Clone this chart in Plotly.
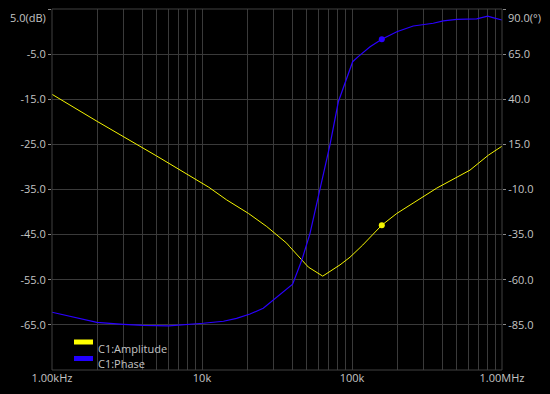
import plotly.graph_objects as go

# ---- data ----
amp_freq = [1000, 2000, 5000, 9300, 11100, 14600, 16600, 20400, 27000, 36700, 38500, 49900, 51200,
            63800, 83200, 97000, 118000, 158000, 199000, 367000, 612000, 811000, 1000000]
amp_db = [-13.9, -19.9, -27.6, -33.0, -34.5, -37.3, -38.4, -40.3, -43.2, -46.9, -47.7, -51.7, -52.2,
          -54.2, -51.7, -50.0, -47.3, -42.9, -40.3, -34.7, -30.7, -27.4, -25.4]

ph_freq = [1000, 1390, 1990, 2990, 4060, 6000, 8300, 10200, 13900, 17000, 20900, 25600, 40200,
           46300, 52500, 59000, 71300, 81100, 89800, 101000, 110000, 132000, 158000, 199000,
           256000, 348000, 406000, 499000, 678000, 803000, 869000, 970000, 1000000]
ph_deg = [-78.0, -80.5, -83.6, -84.7, -85.3, -85.5, -84.7, -84.1, -83.0, -81.4, -79.0, -75.8, -62.5,
          -49.1, -34.3, -15.8, 14.7, 38.6, 48.8, 60.8, 63.6, 69.1, 73.2, 77.4,
          80.6, 82.1, 83.4, 84.3, 84.5, 86.0, 85.2, 84.3, 83.9]

marker_freq = 158000
amp_marker = -42.9
ph_marker = 73.2

x_tickvals = [1e3, 1e4, 1e5, 1e6]
x_ticktext = ["1.00kHz", "10k", "100k", "1.00MHz"]
y1_tickvals = [5, -5, -15, -25, -35, -45, -55, -65]
y1_ticktext = ["", "-5.0", "-15.0", "-25.0", "-35.0", "-45.0", "-55.0", "-65.0"]
y2_tickvals = [90, 65, 40, 15, -10, -35, -60, -85]
y2_ticktext = ["", "65.0", "40.0", "15.0", "-10.0", "-35.0", "-60.0", "-85.0"]
minor_vals = [m * 10 ** d for d in (3, 4, 5) for m in range(2, 10)]

AMP_COLOR = "#f4f400"
PH_COLOR = "#2a00ff"
GRID = "#3a3a3a"
TXT = "#c4c4c4"
FONT = "Open Sans"

fig = go.Figure()
fig.add_trace(go.Scatter(x=amp_freq, y=amp_db, mode="lines",
                         line=dict(color=AMP_COLOR, width=1), yaxis="y", hoverinfo="skip"))
fig.add_trace(go.Scatter(x=ph_freq, y=ph_deg, mode="lines",
                         line=dict(color=PH_COLOR, width=1.2), yaxis="y2", hoverinfo="skip"))
fig.add_trace(go.Scatter(x=[marker_freq], y=[amp_marker], mode="markers",
                         marker=dict(color=AMP_COLOR, size=6), yaxis="y", hoverinfo="skip"))
fig.add_trace(go.Scatter(x=[marker_freq], y=[ph_marker], mode="markers",
                         marker=dict(color=PH_COLOR, size=6), yaxis="y2", hoverinfo="skip"))

W, H = 550, 394
L, R, T, B = 52, 502, 9, 370


def px(xp):
    return (xp - L) / (R - L)


def py(yp):
    return (B - yp) / (B - T)


shapes = [
    dict(type="rect", xref="paper", yref="paper", x0=0, x1=1, y0=0, y1=1,
         line=dict(color="#404040", width=1), layer="above"),
    dict(type="rect", xref="paper", yref="paper", x0=px(74), x1=px(93), y0=py(344.5), y1=py(339.5),
         fillcolor="#ffff00", line=dict(width=0)),
    dict(type="rect", xref="paper", yref="paper", x0=px(74), x1=px(93), y0=py(361), y1=py(356),
         fillcolor="#2200ff", line=dict(width=0)),
]

annotations = [
    dict(text="C1:Amplitude", xref="paper", yref="paper", x=px(96), y=py(348), xanchor="left",
         yanchor="middle", showarrow=False, font=dict(color=TXT, size=11, family=FONT)),
    dict(text="C1:Phase", xref="paper", yref="paper", x=px(96), y=py(363.5), xanchor="left",
         yanchor="middle", showarrow=False, font=dict(color=TXT, size=11, family=FONT)),
    dict(text="5.0(dB)", xref="paper", yref="paper", x=px(48), y=py(18), xanchor="right",
         yanchor="middle", showarrow=False, font=dict(color=TXT, size=11, family=FONT)),
    dict(text="90.0(°)", xref="paper", yref="paper", x=px(506), y=py(18), xanchor="left",
         yanchor="middle", showarrow=False, font=dict(color=TXT, size=11, family=FONT)),
]

fig.update_layout(
    width=W, height=H,
    margin=dict(l=L, r=W - R, t=T, b=H - B),
    paper_bgcolor="#000000", plot_bgcolor="#000000",
    showlegend=False,
    hovermode=False,
    font=dict(family=FONT, color=TXT, size=11),
    xaxis=dict(type="log", range=[3, 6], tickvals=x_tickvals, ticktext=x_ticktext,
               showgrid=True, gridcolor=GRID, gridwidth=1, zeroline=False, showline=False,
               ticks="", tickfont=dict(color=TXT, size=11, family=FONT),
               minor=dict(tickvals=minor_vals, showgrid=True, gridcolor=GRID, gridwidth=1, ticks="")),
    yaxis=dict(range=[-75, 5], tickvals=y1_tickvals, ticktext=y1_ticktext,
               showgrid=True, gridcolor=GRID, zeroline=False, showline=False,
               ticks="outside", ticklen=3, tickcolor="#888888",
               tickfont=dict(color=TXT, size=11, family=FONT)),
    yaxis2=dict(range=[-110, 90], tickvals=y2_tickvals, ticktext=y2_ticktext,
                overlaying="y", side="right", showgrid=False, zeroline=False, showline=False,
                ticks="outside", ticklen=3, tickcolor="#888888",
                tickfont=dict(color=TXT, size=11, family=FONT)),
    shapes=shapes,
    annotations=annotations,
)

fig.write_html("out.html",
               config={"displayModeBar": False, "staticPlot": True},
               post_script="document.body.style.margin='0';document.body.style.background='#000';")
